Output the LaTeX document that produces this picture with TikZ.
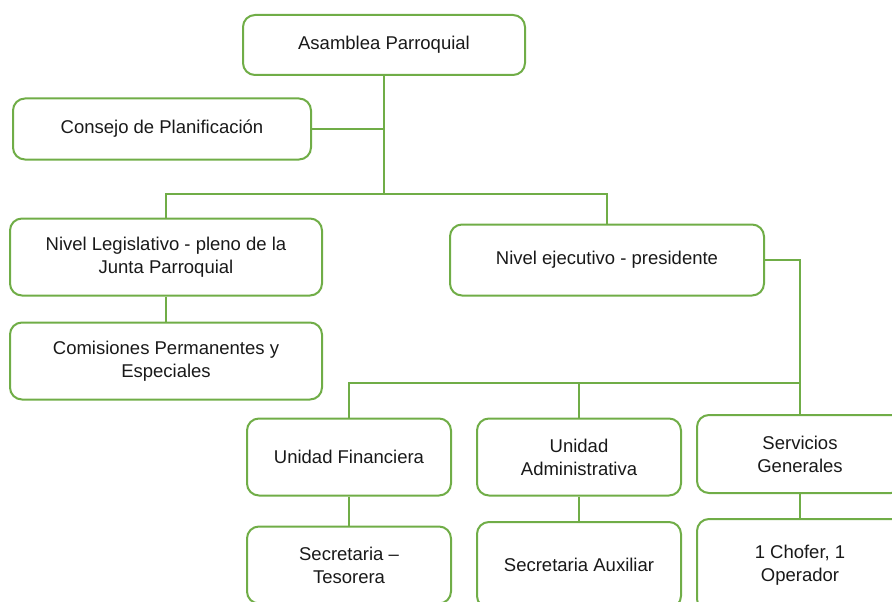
\documentclass[tikz,border=0pt]{standalone}
\usepackage{fontspec}
\setmainfont{Liberation Sans}
\usepackage{xcolor}
\definecolor{orggreen}{RGB}{112,173,71}

\begin{document}
\begin{tikzpicture}[
  x=1pt, y=-1pt,
  unit/.style={draw=orggreen,line width=2pt,rounded corners=12pt,inner sep=0pt,align=center,text=black!90,font=\fontsize{18.5}{23}\selectfont},
  wide/.style={unit,minimum width=312pt,minimum height=77pt},
  small/.style={unit,minimum width=204pt,minimum height=77pt},
  link/.style={draw=orggreen,line width=2pt}
]
  \clip (0,0) rectangle (892,602);
  \node[unit,minimum width=282pt,minimum height=60pt] (asam) at (384,45) {Asamblea Parroquial};
  \node[unit,minimum width=298pt,minimum height=61pt] (consejo) at (162,129) {Consejo de Planificaci\'on};
  \node[wide] (legis) at (166,257) {Nivel Legislativo - pleno de la\\Junta Parroquial};
  \node[wide,minimum height=71pt,minimum width=314pt] (ejec) at (607,260) {Nivel ejecutivo - presidente};
  \node[wide] (comis) at (166,361) {Comisiones Permanentes y\\Especiales};
  \node[small] (finan) at (349,457) {Unidad Financiera};
  \node[small] (admin) at (579,457) {Unidad\\Administrativa};
  \node[small,minimum width=206pt,minimum height=78pt] (serv) at (800,454) {Servicios\\Generales};
  \node[small] (tesor) at (349,565) {Secretaria --\\Tesorera};
  \node[small,minimum height=86pt] (auxil) at (579,565) {Secretaria Auxiliar};
  \node[small,minimum width=206pt,minimum height=92pt] (chofer) at (800,565) {1 Chofer, 1\\Operador};
  \coordinate (j1) at (384,194);
  \coordinate (j2) at (800,383);
  \draw[link] (asam.south) -- (j1);
  \draw[link] (consejo.east) -- (consejo.east -| j1);
  \draw[link] (legis.north) |- (j1) -| (ejec.north);
  \draw[link] (legis.south) -- (comis.north);
  \draw[link] (ejec.east) -| (serv.north);
  \draw[link] (finan.north) |- (j2);
  \draw[link] (admin.north) -- (admin.north |- j2);
  \draw[link] (finan.south) -- (tesor.north);
  \draw[link] (admin.south) -- (auxil.north);
  \draw[link] (serv.south) -- (chofer.north);
\end{tikzpicture}
\end{document}
